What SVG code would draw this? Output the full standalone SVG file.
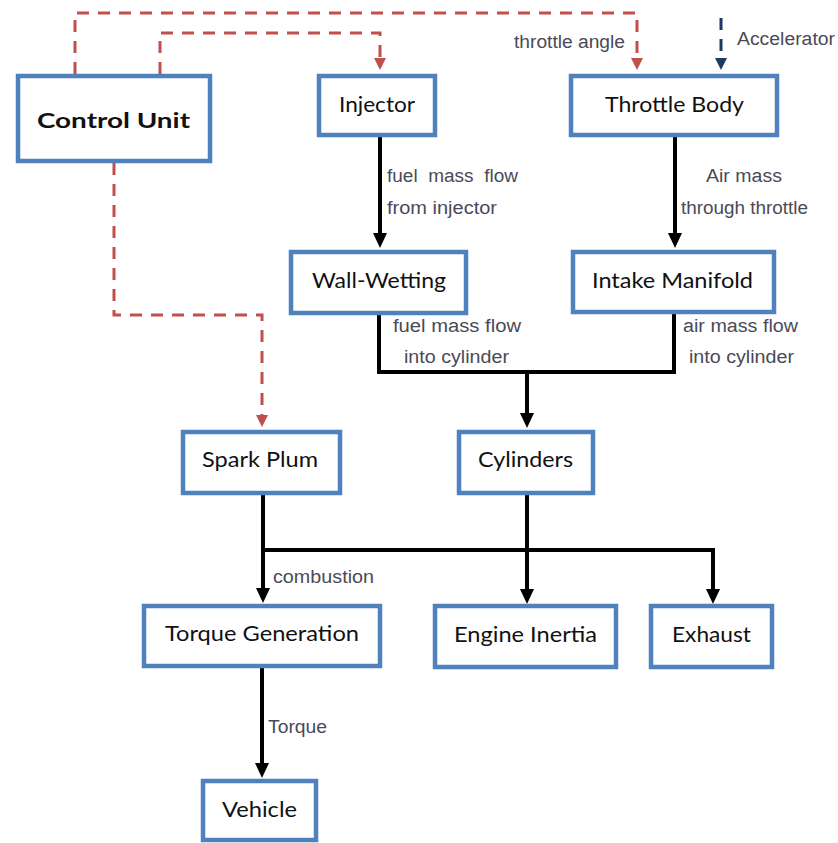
<svg xmlns="http://www.w3.org/2000/svg" width="838" height="843" viewBox="0 0 838 843">
<style>
.box{fill:#fff;stroke:#4F81BD;stroke-width:4.5}
.bt{font-family:Lato,"Open Sans","Liberation Sans",sans-serif;font-size:21px;fill:#111}
.lb{font-family:"Liberation Sans",Arial,sans-serif;font-size:18px;fill:#4a4a58}
.k{fill:none;stroke:#000;stroke-width:4}
.r{fill:none;stroke:#C0504D;stroke-width:3;stroke-dasharray:12 9}
.n{fill:none;stroke:#1F3864;stroke-width:3;stroke-dasharray:12 9}
</style>
<defs>
<marker id="ak" markerUnits="userSpaceOnUse" markerWidth="16" markerHeight="15" refX="7" refY="7" orient="auto"><path d="M0,0 L15,7 L0,14 z" fill="#000"/></marker>
<marker id="ar" markerUnits="userSpaceOnUse" markerWidth="13" markerHeight="13" refX="6" refY="6" orient="auto"><path d="M0,0 L12,6 L0,12 z" fill="#C0504D"/></marker>
<marker id="an" markerUnits="userSpaceOnUse" markerWidth="13" markerHeight="13" refX="6" refY="6" orient="auto"><path d="M0,0 L12,6 L0,12 z" fill="#1F3864"/></marker>
</defs>
<rect width="838" height="843" fill="#fff"/>
<g id="connectors">
<path class="k" d="M380 137 V240" marker-end="url(#ak)"/>
<path class="k" d="M675 137 V240" marker-end="url(#ak)"/>
<path class="k" d="M379 315 V372 H674 V314"/>
<path class="k" d="M527 372 V420" marker-end="url(#ak)"/>
<path class="k" d="M263 495 V595" marker-end="url(#ak)"/>
<path class="k" d="M527 495 V596" marker-end="url(#ak)"/>
<path class="k" d="M263 550 H713 V596" marker-end="url(#ak)"/>
<path class="k" d="M262 668 V770" marker-end="url(#ak)"/>
<path class="r" d="M75 74 V13 H637 V64" marker-end="url(#ar)"/>
<path class="r" d="M160 74 V33 H380 V64" marker-end="url(#ar)"/>
<path class="r" d="M114 163 V315 H262 V421" marker-end="url(#ar)"/>
<path class="n" d="M721 18 V64" marker-end="url(#an)"/>
<text class="lb" x="514" y="48" textLength="111" lengthAdjust="spacingAndGlyphs">throttle angle</text>
<text class="lb" x="737" y="45" textLength="98" lengthAdjust="spacingAndGlyphs">Accelerator</text>
<text class="lb" x="387" y="182" textLength="131" lengthAdjust="spacingAndGlyphs" xml:space="preserve">fuel  mass  flow</text>
<text class="lb" x="387" y="214" textLength="110" lengthAdjust="spacingAndGlyphs">from injector</text>
<text class="lb" x="706" y="182" textLength="76" lengthAdjust="spacingAndGlyphs">Air mass</text>
<text class="lb" x="681" y="214" textLength="127" lengthAdjust="spacingAndGlyphs">through throttle</text>
<text class="lb" x="393" y="332" textLength="128" lengthAdjust="spacingAndGlyphs">fuel mass flow</text>
<text class="lb" x="404" y="363" textLength="105" lengthAdjust="spacingAndGlyphs">into cylinder</text>
<text class="lb" x="683" y="332" textLength="115" lengthAdjust="spacingAndGlyphs">air mass flow</text>
<text class="lb" x="689" y="363" textLength="105" lengthAdjust="spacingAndGlyphs">into cylinder</text>
<text class="lb" x="273" y="583" textLength="101" lengthAdjust="spacingAndGlyphs">combustion</text>
<text class="lb" x="268" y="733" textLength="59" lengthAdjust="spacingAndGlyphs">Torque</text>
</g>
<g id="control-unit"><rect class="box" x="18" y="76" width="192" height="85"/><text class="bt" x="37" y="128" font-weight="bold" font-size="26" textLength="153" lengthAdjust="spacingAndGlyphs">Control Unit</text></g>
<g id="injector"><rect class="box" x="319" y="76" width="116" height="59"/><text class="bt" x="339" y="112" textLength="76" lengthAdjust="spacingAndGlyphs">Injector</text></g>
<g id="throttle-body"><rect class="box" x="571" y="76" width="206" height="59"/><text class="bt" x="605" y="112" textLength="139" lengthAdjust="spacingAndGlyphs">Throttle Body</text></g>
<g id="wall-wetting"><rect class="box" x="291" y="252" width="175" height="61"/><text class="bt" x="312" y="288" textLength="134" lengthAdjust="spacingAndGlyphs">Wall-Wetting</text></g>
<g id="intake-manifold"><rect class="box" x="573" y="252" width="201" height="60"/><text class="bt" x="592" y="288" textLength="161" lengthAdjust="spacingAndGlyphs">Intake Manifold</text></g>
<g id="spark-plum"><rect class="box" x="183" y="432" width="157" height="61"/><text class="bt" x="202" y="467" textLength="116" lengthAdjust="spacingAndGlyphs">Spark Plum</text></g>
<g id="cylinders"><rect class="box" x="459" y="432" width="134" height="61"/><text class="bt" x="478" y="467" textLength="95" lengthAdjust="spacingAndGlyphs">Cylinders</text></g>
<g id="torque-generation"><rect class="box" x="144" y="606" width="236" height="60"/><text class="bt" x="165" y="641" textLength="194" lengthAdjust="spacingAndGlyphs">Torque Generation</text></g>
<g id="engine-inertia"><rect class="box" x="435" y="606" width="181" height="61"/><text class="bt" x="454" y="642" textLength="143" lengthAdjust="spacingAndGlyphs">Engine Inertia</text></g>
<g id="exhaust"><rect class="box" x="651" y="606" width="121" height="61"/><text class="bt" x="672" y="642" textLength="79" lengthAdjust="spacingAndGlyphs">Exhaust</text></g>
<g id="vehicle"><rect class="box" x="203" y="781" width="113" height="59"/><text class="bt" x="222" y="817" textLength="75" lengthAdjust="spacingAndGlyphs">Vehicle</text></g>
</svg>
